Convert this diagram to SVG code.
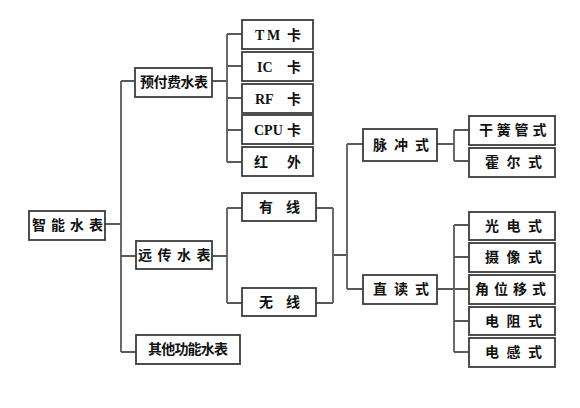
<svg xmlns="http://www.w3.org/2000/svg" width="580" height="408" viewBox="0 0 580 408">
<style>
.box{fill:#fff;stroke:#3c3c3c;stroke-width:1.8}
.ln{fill:none;stroke:#5a5a5a;stroke-width:1.8}
text{font-family:"Liberation Serif","Noto Sans CJK SC",serif;font-weight:bold;font-size:14px;fill:#111}
</style>
<rect width="580" height="408" fill="#fff"/>
<g id="connectors">
<path class="ln" d="M105 224H121M121 81V352M121 81H136M121 256H136M121 352H136"/>
<path class="ln" d="M212 81H227M227 34V162M227 34H242M227 66H242M227 98H242M227 130H242M227 162H242"/>
<path class="ln" d="M212 256H227M227 208V303M227 208H242M227 303H242"/>
<path class="ln" d="M316 208H333M316 303H333M333 208V303M333 255H347M347 144V289M347 144H363M347 289H363"/>
<path class="ln" d="M437 144H454M454 130V161M454 130H469M454 161H469"/>
<path class="ln" d="M437 289H454M454 225V352M454 225H469M454 257H469M454 289H469M454 321H469M454 352H469"/>
</g>
<g id="n_root"><rect class="box" x="29" y="211" width="76" height="29"/><text x="32" y="230" letter-spacing="5">智能水表</text></g>
<g id="n_prepaid"><rect class="box" x="135" y="68" width="77" height="29"/><text x="140" y="87" letter-spacing="-0.5">预付费水表</text></g>
<g id="n_remote"><rect class="box" x="136" y="241" width="76" height="28"/><text x="138" y="260" letter-spacing="5.5">远传水表</text></g>
<g id="n_other"><rect class="box" x="136" y="335" width="104" height="29"/><text x="148" y="354" letter-spacing="-0.8">其他功能水表</text></g>
<g id="n_tm"><rect class="box" x="242" y="20" width="71" height="29"/><text y="40"><tspan x="255">T</tspan><tspan x="267">M</tspan><tspan x="287">卡</tspan></text></g>
<g id="n_ic"><rect class="box" x="242" y="52" width="71" height="29"/><text y="72"><tspan x="257">IC</tspan><tspan x="287">卡</tspan></text></g>
<g id="n_rf"><rect class="box" x="242" y="84" width="71" height="29"/><text y="104"><tspan x="255">RF</tspan><tspan x="287">卡</tspan></text></g>
<g id="n_cpu"><rect class="box" x="242" y="115" width="71" height="29"/><text y="135"><tspan x="254">CPU</tspan><tspan x="287">卡</tspan></text></g>
<g id="n_ir"><rect class="box" x="242" y="147" width="71" height="29"/><text y="167"><tspan x="254">红</tspan><tspan x="287">外</tspan></text></g>
<g id="n_wired"><rect class="box" x="242" y="193" width="74" height="28"/><text y="212"><tspan x="259">有</tspan><tspan x="286">线</tspan></text></g>
<g id="n_wireless"><rect class="box" x="242" y="288" width="74" height="28"/><text y="307"><tspan x="259">无</tspan><tspan x="286">线</tspan></text></g>
<g id="n_pulse"><rect class="box" x="363" y="129" width="74" height="32"/><text x="373" y="150" letter-spacing="7">脉冲式</text></g>
<g id="n_direct"><rect class="box" x="363" y="275" width="74" height="29"/><text x="373" y="294" letter-spacing="7">直读式</text></g>
<g id="n_reed"><rect class="box" x="469" y="116" width="86" height="29"/><text x="479" y="135" letter-spacing="3.8">干簧管式</text></g>
<g id="n_hall"><rect class="box" x="469" y="148" width="86" height="29"/><text x="485" y="167" letter-spacing="7.5">霍尔式</text></g>
<g id="n_photo"><rect class="box" x="469" y="212" width="86" height="28"/><text x="485" y="231" letter-spacing="7.5">光电式</text></g>
<g id="n_camera"><rect class="box" x="469" y="243" width="86" height="29"/><text x="485" y="262" letter-spacing="7.5">摄像式</text></g>
<g id="n_angle"><rect class="box" x="469" y="275" width="86" height="29"/><text x="475" y="294" letter-spacing="5">角位移式</text></g>
<g id="n_resist"><rect class="box" x="469" y="307" width="86" height="28"/><text x="485" y="326" letter-spacing="7.5">电阻式</text></g>
<g id="n_induct"><rect class="box" x="469" y="338" width="86" height="29"/><text x="485" y="357" letter-spacing="7.5">电感式</text></g>
</svg>
